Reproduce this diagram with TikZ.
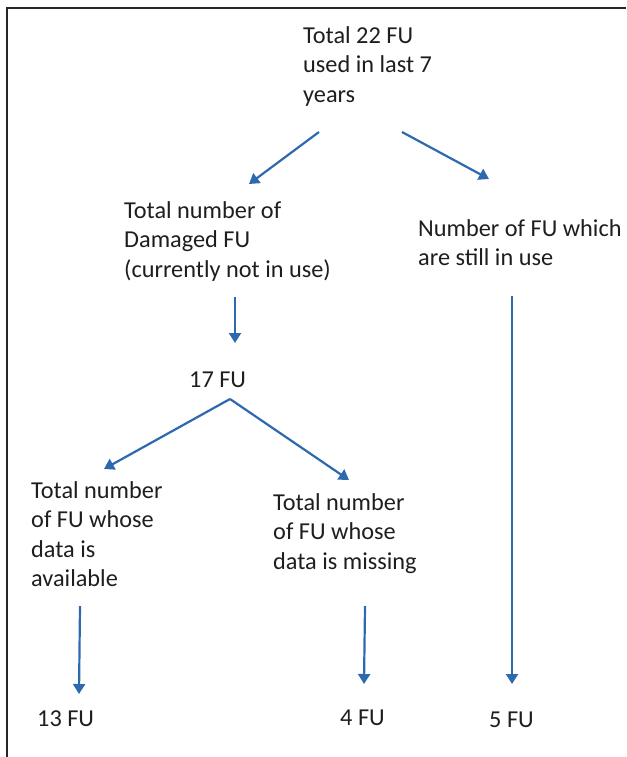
\documentclass[tikz,border=0pt]{standalone}
\usepackage{fontspec}
\setmainfont{Carlito}
\usetikzlibrary{arrows.meta}
\definecolor{arrowblue}{RGB}{45,105,175}
\definecolor{textgray}{RGB}{30,30,30}
\begin{document}
\begin{tikzpicture}[x=1pt,y=1pt,
  lbl/.style={anchor=north west,inner sep=0pt,align=left,text=textgray,
    font=\fontsize{24.3}{29.5}\selectfont},
  conn/.style={draw=arrowblue,line width=2.2pt,
    -{Triangle[length=10pt,width=12pt]}},
  frameline/.style={draw=black!85,line width=1.8pt}]
\useasboundingbox (0,0) rectangle (626,-757);
% frame
\coordinate (fbl) at (7,-757);
\coordinate (ftl) at (7,-8);
\coordinate (ftr) at (626,-8);
\draw[frameline] (fbl) -- (ftl) -- (ftr);
% texts (node top = baseline of first line - 20.65)
\node[lbl] (top) at (303,-22.35) {\strut Total 22 FU\\used in last 7\\years};
\node[lbl] (dam) at (124,-197.35) {\strut Total number of\\Damaged FU\\(currently not in use)};
\node[lbl] (use) at (418,-215.35) {\strut Number of FU which\\are still in use};
\node[lbl] (n17) at (189,-366.35) {\strut 17 FU};
\node[lbl] (avl) at (31,-477.35) {\strut Total number\\of FU whose\\data is\\available};
\node[lbl] (mis) at (273,-489.35) {\strut Total number\\of FU whose\\data is missing};
\node[lbl] (n13) at (37,-705.35) {\strut 13 FU};
\node[lbl] (n4) at (340,-704.35) {\strut 4 FU};
\node[lbl] (n5) at (489,-706.35) {\strut 5 FU};
% arrow end points
\coordinate (a1s) at (319,-132);
\coordinate (a1e) at (249,-184);
\coordinate (a2s) at (402,-132);
\coordinate (a2e) at (489,-179);
\coordinate (a3s) at (235,-297);
\coordinate (a3e) at (235,-343);
\coordinate (a4s) at (230,-399);
\coordinate (a4l) at (104,-469);
\coordinate (a4r) at (349,-480);
\coordinate (a5s) at (80,-606);
\coordinate (a5e) at (79,-694);
\coordinate (a6s) at (365,-606);
\coordinate (a6e) at (364,-684);
\coordinate (a7s) at (512,-296);
\coordinate (a7e) at (512,-684);
\draw[conn] (a1s) -- (a1e);
\draw[conn] (a2s) -- (a2e);
\draw[conn] (a3s) -- (a3e);
\draw[conn] (a4s) -- (a4l);
\draw[conn] (a4s) -- (a4r);
\draw[conn] (a5s) -- (a5e);
\draw[conn] (a6s) -- (a6e);
\draw[conn] (a7s) -- (a7e);
\end{tikzpicture}
\end{document}
